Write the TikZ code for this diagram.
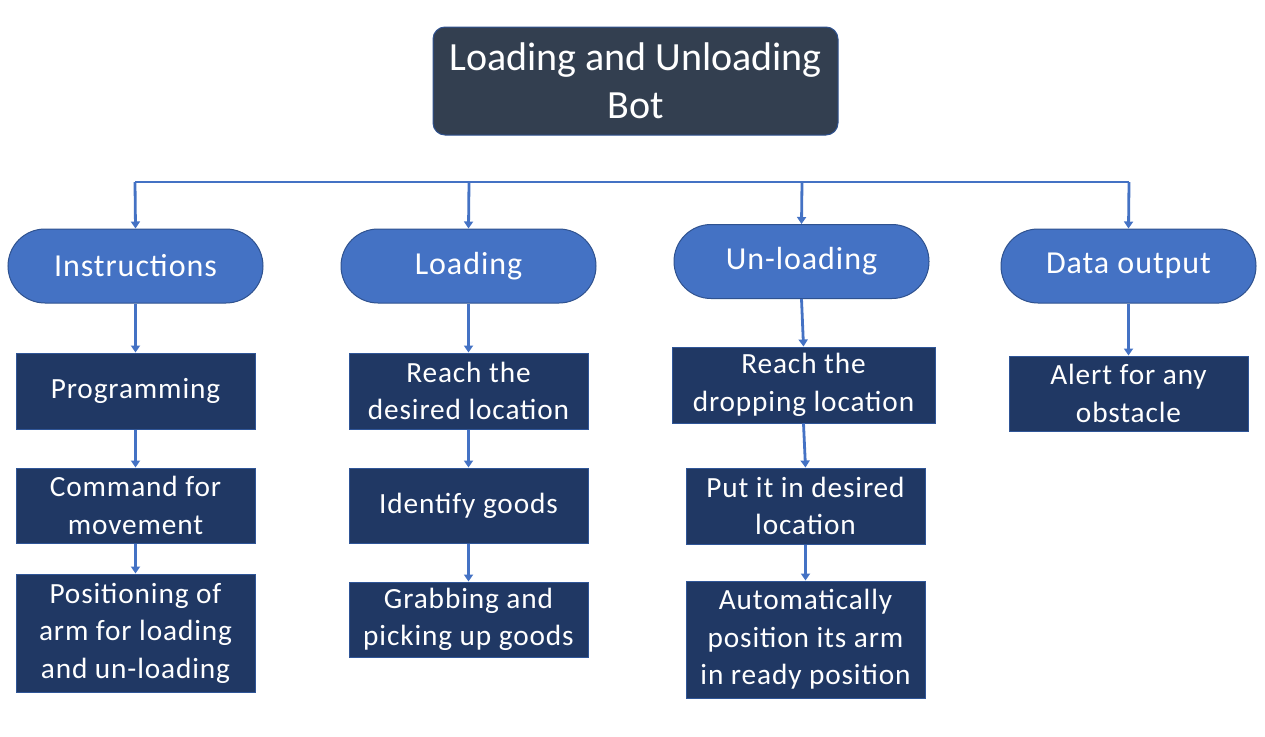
\documentclass[tikz,border=0pt]{standalone}
\usepackage{fontspec}
\setmainfont{Carlito}
\newfontfamily\spacedfont[LetterSpace=3]{Carlito}
\usetikzlibrary{arrows.meta}
\definecolor{titlefill}{HTML}{333F50}
\definecolor{ovalfill}{HTML}{4472C4}
\definecolor{ovalline}{HTML}{2F528F}
\definecolor{boxfill}{HTML}{203864}
\definecolor{boxline}{HTML}{2F5597}
\definecolor{arrowcol}{HTML}{4472C4}
\begin{document}
\begin{tikzpicture}[x=1pt,y=-1pt,
  titlebox/.style={draw=ovalline,line width=1pt,fill=titlefill,rounded corners=12pt,
    minimum width=405pt,minimum height=108pt,inner sep=0pt,text=white,align=center,
    font=\fontsize{40}{48}\selectfont},
  ovalbox/.style={draw=ovalline,line width=1pt,fill=ovalfill,rounded corners=37pt,
    minimum width=255pt,minimum height=74pt,inner sep=0pt,text=white,align=center,
    font=\spacedfont\fontsize{32}{38}\selectfont},
  stepbox/.style={draw=boxline,line width=1pt,fill=boxfill,
    minimum width=239pt,minimum height=76pt,inner sep=0pt,text=white,align=center,
    font=\spacedfont\fontsize{29.3}{37.5}\selectfont},
  conn/.style={draw=arrowcol,line width=2.8pt,-{Triangle[length=7pt,width=9pt]}},
  bus/.style={draw=arrowcol,line width=2.8pt}
]
\fill[white] (0,0) rectangle (1265,736);
\useasboundingbox (0,0) rectangle (1265,736);

\node[titlebox] (title) at (635.5,81) {Loading and Unloading\\Bot};

\node[ovalbox] (o1) at (135.5,266) {Instructions};
\node[ovalbox] (o2) at (468.5,266) {Loading};
\node[ovalbox] (o3) at (801.5,261.5) {Un-loading};
\node[ovalbox] (o4) at (1128.5,266) {Data output};

\node[stepbox] (a1) at (135.5,391) {Programming};
\node[stepbox,minimum height=75pt] (a2) at (135.5,505.5) {Command for\\movement};
\node[stepbox,minimum height=118pt] (a3) at (135.5,633) {Positioning of\\arm for loading\\and un-loading};

\node[stepbox] (b1) at (468.5,391) {Reach the\\desired location};
\node[stepbox,minimum height=75pt] (b2) at (468.5,505.5) {Identify goods};
\node[stepbox,minimum height=75pt] (b3) at (468.5,619.5) {Grabbing and\\picking up goods};

\node[stepbox,minimum width=263pt] (c1) at (803.5,385) {Reach the\\dropping location};
\node[stepbox] (c2) at (805.5,506) {Put it in desired\\location};
\node[stepbox,minimum height=117pt] (c3) at (805.5,639.5) {Automatically\\position its arm\\in ready position};

\node[stepbox,minimum height=75pt] (d1) at (1128.5,393.5) {Alert for any\\obstacle};

\coordinate (t1) at (135,182);
\coordinate (t2) at (469,182);
\coordinate (t3) at (802,182);
\coordinate (t4) at (1129,182);
\draw[bus] (t1) -- (t4);
\draw[conn] (t1) -- (o1.north);
\draw[conn] (t2) -- (o2.north);
\draw[conn] (t3) -- (o3.north);
\draw[conn] (t4) -- (o4.north);

\draw[conn] (o1.south) -- (a1.north);
\draw[conn] (a1.south) -- (a2.north);
\draw[conn] (a2.south) -- (a3.north);

\draw[conn] (o2.south) -- (b1.north);
\draw[conn] (b1.south) -- (b2.north);
\draw[conn] (b2.south) -- (b3.north);

\draw[conn] (o3.south) -- (c1.north);
\draw[conn] (c1.south) -- (c2.north);
\draw[conn] (c2.south) -- (c3.north);

\draw[conn] (o4.south) -- (d1.north);
\end{tikzpicture}
\end{document}
